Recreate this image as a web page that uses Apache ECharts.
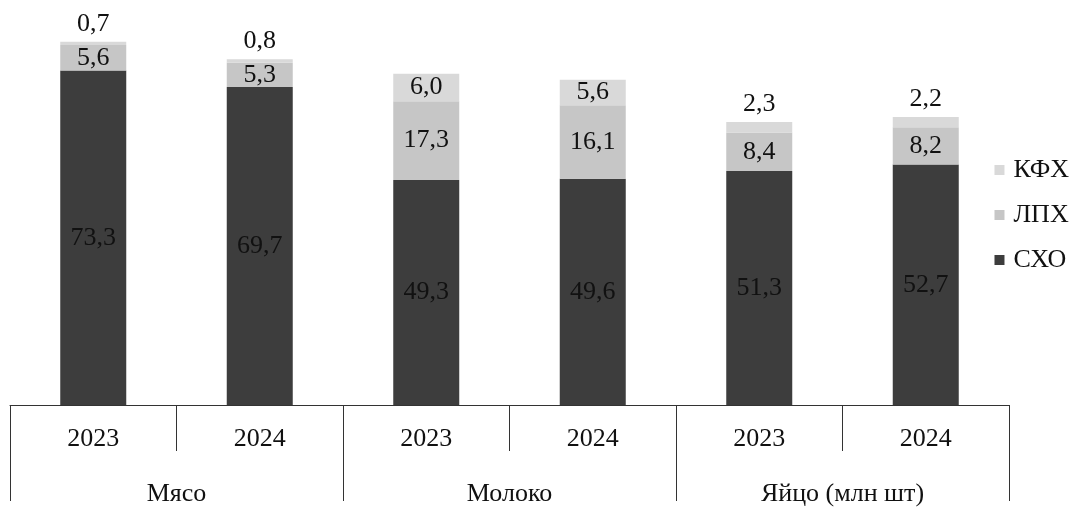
<!DOCTYPE html>
<html>
<head>
<meta charset="utf-8">
<script src="https://cdn.jsdelivr.net/npm/echarts@6/dist/echarts.min.js"></script>
<style>html,body{margin:0;padding:0;background:#fff;overflow:hidden}#c{width:1081px;height:507px}</style>
</head>
<body>
<div id="c"></div>
<script>
const years = ['2023', '2024', '2023', '2024', '2023', '2024'];
const groups = ['Мясо', 'Молоко', 'Яйцо (млн шт)'];
const skho = [73.3, 69.7, 49.3, 49.6, 51.3, 52.7];
const lph = [5.6, 5.3, 17.3, 16.1, 8.4, 8.2];
const kfh = [0.7, 0.8, 6.0, 5.6, 2.3, 2.2];
const legendOrder = ['КФХ', 'ЛПХ', 'СХО'];

const FONT = 'Liberation Serif';
const FS = 26;
const fmt = v => String(v.toFixed(1)).replace('.', ',');
const lbl = (pos) => ({
  show: true, position: pos, color: '#111', fontFamily: FONT, fontSize: FS,
  formatter: p => fmt(p.value)
});

const chart = echarts.init(document.getElementById('c'));
chart.setOption({
  animation: false,
  backgroundColor: '#fff',
  grid: { left: 10, right: 72, top: 40, bottom: 95 },
  legend: {
    orient: 'vertical', right: 7, top: 152,
    data: legendOrder,
    icon: 'rect', itemWidth: 10, itemHeight: 10, itemGap: 19,
    textStyle: { fontFamily: FONT, fontSize: FS, color: '#111', padding: [0, 0, 0, 4] }
  },
  xAxis: [
    {
      type: 'category', data: years, position: 'bottom',
      axisLine: { show: true, lineStyle: { color: '#333', width: 1 } },
      axisTick: { show: true, length: 46, lineStyle: { color: '#333' } },
      axisLabel: { margin: 21, fontFamily: FONT, fontSize: FS, color: '#111' }
    },
    {
      type: 'category', data: groups, position: 'bottom',
      axisLine: { show: false },
      axisTick: { show: true, length: 96, lineStyle: { color: '#333' } },
      axisLabel: { margin: 76, fontFamily: FONT, fontSize: FS, color: '#111' }
    }
  ],
  yAxis: { type: 'value', min: 0, max: 80, show: false, splitLine: { show: false } },
  series: [
    {
      name: 'СХО', type: 'bar', stack: 's', barWidth: 66,
      itemStyle: { color: '#3d3d3d' },
      label: lbl('inside'),
      data: skho
    },
    {
      name: 'ЛПХ', type: 'bar', stack: 's', barWidth: 66,
      itemStyle: { color: '#c6c6c6' },
      label: lbl('inside'),
      data: lph
    },
    {
      name: 'КФХ', type: 'bar', stack: 's', barWidth: 66,
      itemStyle: { color: '#d9d9d9' },
      label: lbl('inside'),
      data: kfh.map(v => ({ value: v, label: { position: v < 3 ? 'top' : 'inside' } }))
    }
  ]
});
</script>
</body>
</html>
